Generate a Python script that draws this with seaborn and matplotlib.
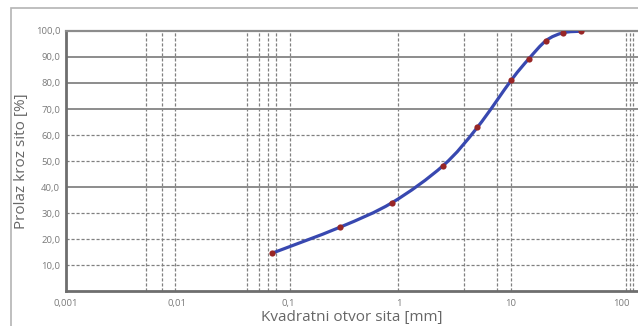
import numpy as np
import pandas as pd
import matplotlib
matplotlib.use("Agg")
import matplotlib.pyplot as plt
import seaborn as sns
from matplotlib.patches import Rectangle, PathPatch
from matplotlib.path import Path

# ---- data ----
sieve_mm = [0.071, 0.29, 0.86, 2.47, 5.04, 10.2, 14.6, 20.9, 29.7, 42.9]
passing_pct = [14.5, 24.5, 34.0, 48.2, 63.0, 81.2, 89.3, 96.3, 99.3, 99.9]
x_ticks = [0.001, 0.01, 0.1, 1, 10, 100]
x_tick_labels = ["0,001", "0,01", "0,1", "1", "10", "100"]
y_ticks = [10, 20, 30, 40, 50, 60, 70, 80, 90, 100]
y_tick_labels = ["10,0", "20,0", "30,0", "40,0", "50,0", "60,0", "70,0", "80,0", "90,0", "100,0"]
v_dashed = [0.00525, 0.00731, 0.00957, 0.043, 0.0546, 0.0658, 0.0776, 0.103,
            0.973, 3.78, 7.57, 10.1, 110, 119, 127]
h_solid = [40, 70, 80, 90]
h_dashed = [10, 20, 30, 50, 60]

df = pd.DataFrame({"sieve": sieve_mm, "passing": passing_pct})

sns.set_theme(style="white")
plt.rcParams["font.family"] = ["Open Sans", "DejaVu Sans"]

fig = plt.figure(figsize=(6.38, 3.26), dpi=100)
ax = fig.add_axes([0.103, 0.107, 0.897, 0.798])

# outer frame
fig.patches.append(Rectangle((11 / 638, -0.1), 1.2, (326 - 8) / 326 + 0.1,
                             transform=fig.transFigure, fill=False,
                             edgecolor="#b4b4b4", linewidth=1.2, zorder=0))

ax.set_xscale("log")
ax.set_xlim(0.001, 140)
ax.set_ylim(0, 100)

for v in v_dashed:
    ax.axvline(v, color="#808080", linestyle=(0, (2.5, 1.5)), linewidth=0.9, zorder=1)
for h in h_solid:
    ax.axhline(h, color="#8c8c8c", linestyle="-", linewidth=1.4, zorder=1)
for h in h_dashed:
    ax.axhline(h, color="#808080", linestyle=(0, (2.5, 1.5)), linewidth=0.9, zorder=1)

# smoothed connecting line (Catmull-Rom rendered as cubic Bezier through the data points)
lx = np.log10(np.asarray(df["sieve"], dtype=float))
ly = np.asarray(df["passing"], dtype=float)
pts = np.column_stack([lx, ly])
n = len(pts)
verts = [pts[0]]
codes = [Path.MOVETO]
t = 1.0 / 6.0
for i in range(n - 1):
    p0 = pts[i - 1] if i > 0 else pts[i]
    p1 = pts[i]
    p2 = pts[i + 1]
    p3 = pts[i + 2] if i + 2 < n else pts[i + 1]
    c1 = p1 + (p2 - p0) * t
    c2 = p2 - (p3 - p1) * t
    verts += [c1, c2, p2]
    codes += [Path.CURVE4] * 3
verts = np.array(verts)
verts[:, 0] = 10 ** verts[:, 0]
ax.add_patch(PathPatch(Path(verts, codes), facecolor="none", edgecolor="#3848b0",
                       linewidth=2.3, zorder=3, capstyle="round", joinstyle="round"))

sns.scatterplot(data=df, x="sieve", y="passing", ax=ax, color="#982626",
                marker="o", s=20, edgecolor="#982626", linewidth=0, zorder=4)

ax.set_xticks(x_ticks)
ax.set_xticklabels(x_tick_labels)
ax.xaxis.set_minor_locator(matplotlib.ticker.NullLocator())
ax.set_yticks(y_ticks)
ax.set_yticklabels(y_tick_labels)
ax.tick_params(axis="both", length=0, labelsize=6.8, labelcolor="#7a7a7a")
ax.tick_params(axis="x", pad=6)
ax.tick_params(axis="y", pad=4)

for s in ["left", "bottom"]:
    ax.spines[s].set_color("#6e6e6e")
    ax.spines[s].set_linewidth(2.0)
ax.spines["top"].set_color("#8c8c8c")
ax.spines["top"].set_linewidth(1.6)
ax.spines["right"].set_visible(False)

ax.set_xlabel("Kvadratni otvor sita [mm]", fontsize=11, color="#666666", labelpad=1)
ax.set_ylabel("Prolaz kroz sito [%]", fontsize=11, color="#666666", labelpad=5)

fig.savefig("out.png", dpi=100)
